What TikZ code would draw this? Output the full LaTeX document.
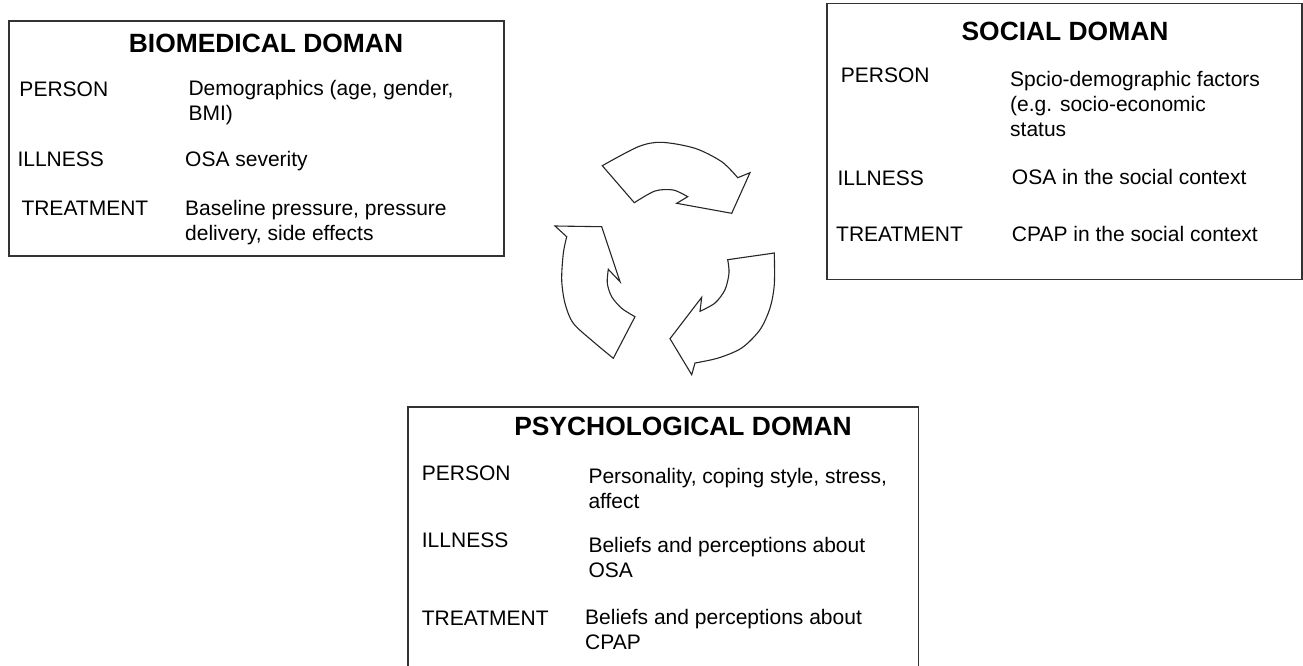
\documentclass[tikz,border=0pt]{standalone}
\usepackage{fontspec}
\setmainfont{Liberation Sans}
\begin{document}
\begin{tikzpicture}[x=1pt,y=-1pt,
  boxline/.style={draw=black!80, line width=1.3pt},
  cyclearrow/.style={draw=black!85, line width=1.1pt, line join=miter, fill=white},
  dtitle/.style={anchor=base, inner sep=0pt, font=\fontsize{26.4}{30}\selectfont\bfseries},
  lbl/.style={anchor=base west, inner sep=0pt, font=\fontsize{21}{25}\selectfont, align=left}]
\useasboundingbox (0,0) rectangle (1303,665);
% multi-line labels are placed by the baseline of their last line

% ---- Biomedical domain ----
\draw[boxline] (9,21) rectangle (504,256);
\node[dtitle] (bioT) at (266,52.5) {BIOMEDICAL DOMAN};
\node[lbl] (bioP)  at (19.3,96.7) {PERSON};
\node[lbl] (bioPa) at (188.3,120.5) {Demographics (age, gender,\\BMI)};
\node[lbl] (bioI)  at (17.3,166.7) {ILLNESS};
\node[lbl] (bioIa) at (185,166) {OSA severity};
\node[lbl] (bioR)  at (21.3,215) {TREATMENT};
\node[lbl] (bioRa) at (185,240) {Baseline pressure, pressure\\delivery, side effects};

% ---- Social domain ----
\draw[boxline] (827,3.3) rectangle (1302,279.3);
\node[dtitle] (socT) at (1065,40) {SOCIAL DOMAN};
\node[lbl] (socP)  at (840.7,82.7) {PERSON};
\node[lbl] (socPa) at (1010,136.7) {Spcio-demographic factors\\(e.g. socio-economic\\status};
\node[lbl] (socI)  at (837.3,185) {ILLNESS};
\node[lbl] (socIa) at (1011.7,184) {OSA in the social context};
\node[lbl] (socR)  at (836,241.7) {TREATMENT};
\node[lbl] (socRa) at (1011.7,241.7) {CPAP in the social context};

% ---- Psychological domain (runs off the lower edge) ----
\draw[boxline] (408,666) -- (408,407) -- (918.8,407) -- (918.8,666);
\node[dtitle] (psyT) at (683,435) {PSYCHOLOGICAL DOMAN};
\node[lbl] (psyP)  at (421.7,480) {PERSON};
\node[lbl] (psyPa) at (588.3,508) {Personality, coping style, stress,\\affect};
\node[lbl] (psyI)  at (421.7,547.3) {ILLNESS};
\node[lbl] (psyIa) at (588.3,577.3) {Beliefs and perceptions about\\OSA};
\node[lbl] (psyR)  at (421.7,625) {TREATMENT};
\node[lbl] (psyRa) at (585,649.3) {Beliefs and perceptions about\\CPAP};

% ---- cycle of three curved arrows ----
% upper arrow, pointing right
\draw[cyclearrow] plot[smooth] coordinates {(602.3,165.7) (638.3,146.7) (661.7,142.3) (695,148.3) (721.7,161.7) (737.7,177.7)}
  -- (750,172.7) -- (731.7,213.3) -- (676.7,203.3) -- (687.7,196.7)
  -- plot[smooth] coordinates {(687.7,196.7) (673.3,190) (655,191) (634.3,202.7)} -- cycle;
% lower right arrow, pointing down-left
\draw[cyclearrow] (774.3,253) -- (727.7,259.7)
  -- plot[smooth] coordinates {(727.7,259.7) (729,273) (725,289.7) (715,303) (700,311.3)}
  -- (701.7,297.3) -- (670,338.7) -- (691.7,374.7) -- (695,363)
  -- plot[smooth] coordinates {(695,363) (718.3,358) (741.7,348) (760,329.7) (770,308) (774.3,284.7) (774.3,253)} -- cycle;
% left arrow, pointing up
\draw[cyclearrow] (555,226) -- (601.7,226.7) -- (620,281.7) -- (608.3,269.3)
  -- plot[smooth] coordinates {(608.3,269.3) (607.3,283.3) (611.7,296.7) (621.7,308.3) (635,316.7)}
  -- (613.3,358.3)
  -- plot[smooth] coordinates {(613.3,358.3) (593.3,341.7) (573.3,323.3) (565,303.3) (561.7,280) (563.3,253.3) (566.7,236.7)} -- cycle;
\end{tikzpicture}
\end{document}
